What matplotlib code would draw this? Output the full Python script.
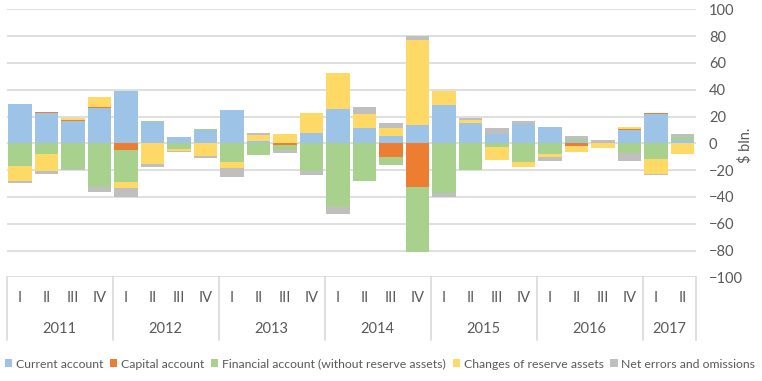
import numpy as np
import matplotlib
matplotlib.use('Agg')  # no display
import matplotlib.pyplot as plt
from matplotlib.patches import Patch
import matplotlib.transforms as mtransforms

# Quarters and years
quarters = ['I', 'II', 'III', 'IV'] * 6 + ['I', 'II']
years = ['2011', '2012', '2013', '2014', '2015', '2016', '2017']
year_sizes = [4, 4, 4, 4, 4, 4, 2]

# Balance of payments components, $ bln.
current = [29.1, 22.4, 16.5, 26.1, 39.0, 15.8, 4.7, 10.1, 24.7, 2.0, 0.0, 7.6, 25.4,
           11.3, 5.4, 13.6, 28.4, 15.0, 6.9, 14.3, 12.1, 1.5, 0.0, 9.9, 21.7, 2.4]
capital = [0.0, 0.7, 0.7, 0.7, -5.0, 0.0, 0.0, 0.0, 0.0, 0.0, -1.0, 0.0, 0.0,
           0.0, -10.1, -32.4, 0.0, 0.0, 0.0, 0.0, 0.0, -2.0, 0.0, 0.7, 0.7, 0.0]
financial = [-17.3, -7.9, -19.0, -32.6, -23.7, 0.8, -4.2, 0.5, -13.9, -8.7, -4.2, -20.5, -47.2,
             -27.9, -5.9, -48.9, -36.8, -19.8, -2.7, -13.9, -7.9, 1.5, 0.3, -7.2, -11.6, 2.0]
reserves = [-10.6, -12.6, 1.5, 8.1, -4.4, -15.3, -1.5, -9.4, -4.4, 4.2, 6.9, 14.8, 26.7,
            10.4, 5.9, 63.7, 10.4, 2.2, -9.6, -3.7, -2.2, -4.4, -3.5, 1.5, -11.1, -7.9]
errors = [-2.0, -2.7, -1.0, -3.5, -6.7, -2.2, -0.7, -1.5, -6.7, 1.5, -2.4, -3.0, -5.9,
          5.2, 3.7, 3.0, -3.0, 1.5, 4.4, 2.2, -3.0, 2.2, 2.2, -5.9, -0.7, 2.4]

series_names = ['Current account', 'Capital account', 'Financial account (without reserve assets)',
                'Changes of reserve assets', 'Net errors and omissions']
series = [current, capital, financial, reserves, errors]
colors = ['#9DC3E6', '#ED7D31', '#A9D18E', '#FFD966', '#BFBFBF']

text_color = '#595959'
grid_color = '#D9D9D9'
plt.rcParams['font.family'] = ['Lato', 'DejaVu Sans']

fig = plt.figure(figsize=(7.62, 3.81), dpi=100)
ax = fig.add_axes([6.75 / 762, 1 - 277.3 / 381, 689 / 762, 268 / 381])

x = np.arange(len(quarters))
pos_bottom = np.zeros(len(x))
neg_bottom = np.zeros(len(x))
for vals, col in zip(series, colors):
    v = np.array(vals)
    bottom = np.where(v >= 0, pos_bottom, neg_bottom)
    ax.bar(x, v, bottom=bottom, width=0.9, color=col, zorder=2)
    pos_bottom += np.where(v >= 0, v, 0)
    neg_bottom += np.where(v < 0, v, 0)

ax.set_xlim(-0.5, len(x) - 0.5)
ax.set_ylim(-100, 100)
ax.set_yticks(np.arange(-100, 101, 20))
ax.yaxis.tick_right()
ax.tick_params(axis='y', length=0, pad=9.5, labelsize=10.5, labelcolor=text_color)
ax.set_xticks([])
ax.grid(axis='y', color=grid_color, linewidth=1.2, zorder=0)
for s in ax.spines.values():
    s.set_visible(False)

# Category axis: quarter labels, year labels, separators
trans = mtransforms.blended_transform_factory(ax.transData, ax.transAxes)
for xi, q in zip(x, quarters):
    ax.text(xi, -0.077, q, transform=trans, ha='center', va='center',
            fontsize=10.5, color=text_color)
start = 0
edges = [-0.5]
for yr, n in zip(years, year_sizes):
    ax.text(start + (n - 1) / 2, -0.193, yr, transform=trans, ha='center', va='center',
            fontsize=10.5, color=text_color)
    start += n
    edges.append(start - 0.5)
for e in edges:
    ax.plot([e, e], [0, -0.235], transform=trans, color=grid_color, linewidth=1.2, clip_on=False)

fig.text(745 / 762, 1 - 145 / 381, '$ bln.', rotation=90, ha='center', va='center',
         fontsize=10.5, color=text_color)

handles = [Patch(facecolor=c, edgecolor='none') for c in colors]
fig.legend(handles, series_names, loc='center left', bbox_to_anchor=(5 / 762, 1 - 364 / 381),
           ncol=5, frameon=False, fontsize=8.8, labelcolor=text_color,
           handlelength=0.6, handleheight=0.6, handletextpad=0.3, columnspacing=0.55,
           borderpad=0, borderaxespad=0)

fig.savefig('out.png', dpi=100)
